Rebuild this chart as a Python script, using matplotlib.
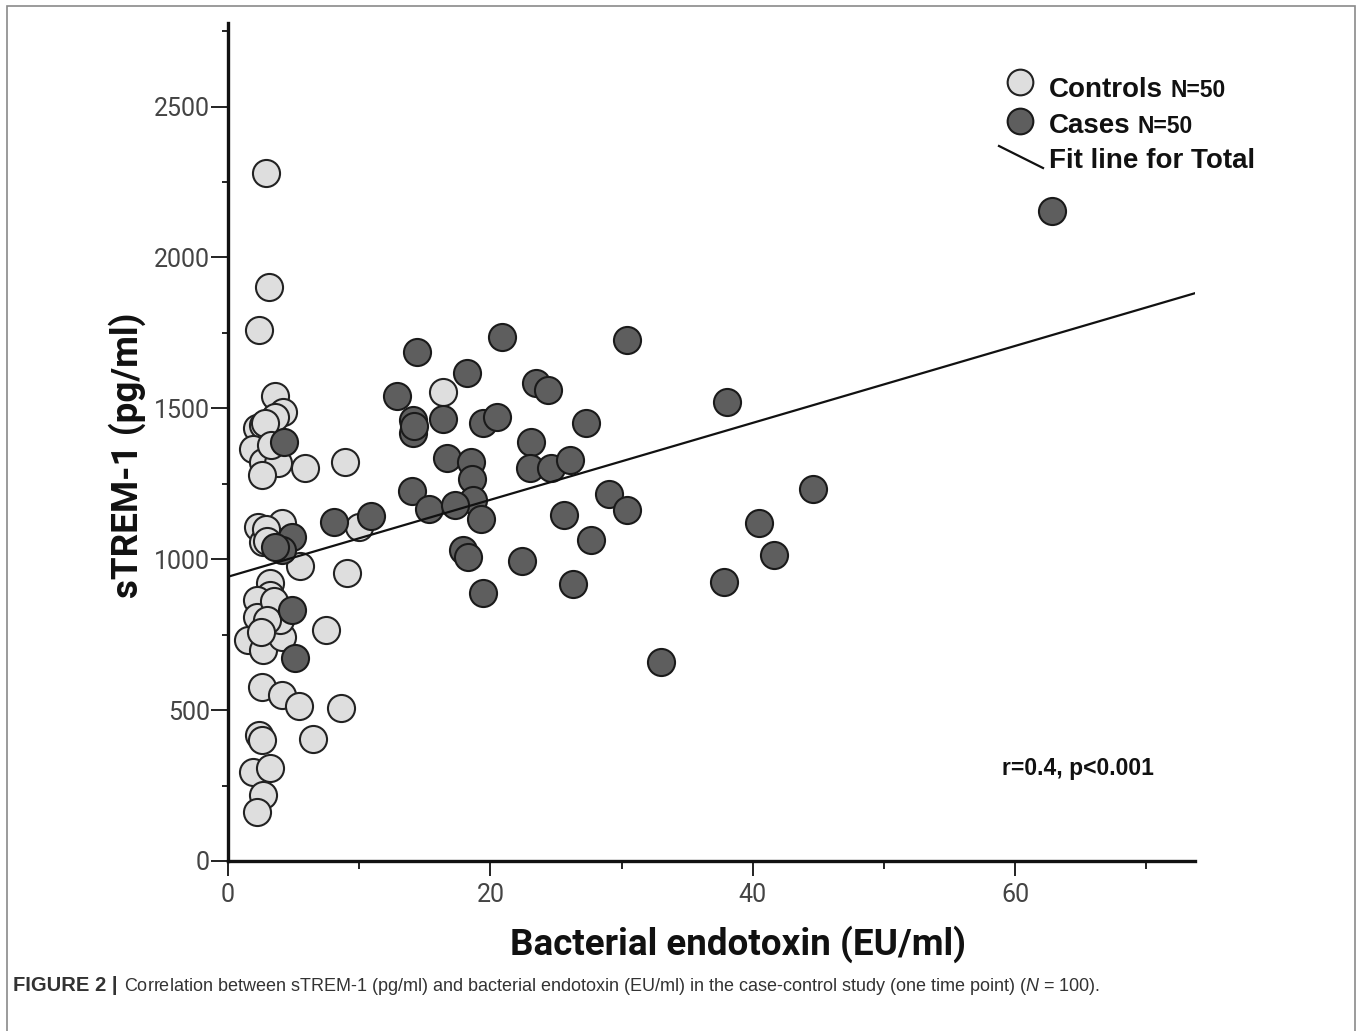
import matplotlib
matplotlib.use("Agg")
import matplotlib.pyplot as plt
from matplotlib.lines import Line2D
from matplotlib.patches import Rectangle
from matplotlib.ticker import MultipleLocator

plt.rcParams["mathtext.fontset"] = "custom"
plt.rcParams["mathtext.it"] = "Liberation Sans:italic"
plt.rcParams["mathtext.rm"] = "Liberation Sans"

# sTREM-1 vs endotoxin
controls_x = [2.9, 3.1, 2.4, 3.6, 4.2, 2.2, 2.7, 3.6, 1.9, 2.7, 3.8, 2.6, 5.9, 8.9,
              2.3, 4.1, 2.7, 3.4, 5.5, 9.1, 10.0, 3.2, 3.2, 2.2, 2.2, 2.7, 1.5, 2.7,
              4.1, 4.0, 7.5, 2.6, 4.1, 5.4, 8.6, 2.4, 2.6, 6.5, 1.9, 3.2, 2.7, 2.2,
              16.4, 2.8, 3.3, 2.9, 3.0, 3.5, 3.0, 2.5]
controls_y = [2280, 1903, 1760, 1541, 1488, 1435, 1445, 1472, 1366, 1323, 1319, 1279, 1303, 1323,
              1107, 1120, 1057, 1064, 978, 955, 1107, 921, 882, 865, 809, 766, 733, 699,
              742, 799, 766, 577, 550, 514, 507, 418, 401, 404, 295, 308, 219, 162,
              1555, 1450, 1380, 1100, 1060, 860, 800, 760]

cases_x = [62.8, 30.4, 20.9, 14.4, 18.2, 23.5, 24.4, 12.9, 38.0, 14.1, 14.1, 16.4, 19.4,
           20.5, 27.3, 23.1, 16.7, 18.5, 23.0, 24.6, 26.1, 18.6, 14.0, 18.7, 15.3, 17.3,
           19.3, 29.0, 30.4, 25.6, 10.9, 8.1, 17.9, 18.3, 22.4, 27.7, 19.4, 26.3, 44.6,
           40.5, 41.6, 37.8, 33.0, 4.3, 4.9, 4.1, 3.6, 4.9, 5.1, 14.2]
cases_y = [2154, 1727, 1737, 1687, 1617, 1584, 1561, 1541, 1521, 1462, 1419, 1465, 1452,
           1472, 1452, 1389, 1336, 1323, 1303, 1303, 1329, 1266, 1226, 1197, 1167, 1180,
           1134, 1216, 1163, 1147, 1144, 1124, 1031, 1008, 994, 1064, 888, 918, 1233,
           1120, 1014, 925, 660, 1389, 1074, 1031, 1041, 832, 673, 1440]

# linear fit for the total sample
fit_intercept = 942
fit_slope = 12.75

x_max = 73.7
y_max = 2777

W, H = 1360, 1031
def fx(px):
    return px / W
def fy(py):
    return 1 - py / H

narrow = ["Roboto", "DejaVu Sans"]
bold_sans = ["Liberation Sans", "DejaVu Sans"]

fig = plt.figure(figsize=(W / 100, H / 100), dpi=100)
ax = fig.add_axes([fx(228), fy(861), fx(1195) - fx(228), fy(23) - fy(861)])

ax.scatter(controls_x, controls_y, s=380, c="#dedede", edgecolors="#222222",
           linewidths=1.5, zorder=2, clip_on=False)
ax.scatter(cases_x, cases_y, s=380, c="#5e5e5e", edgecolors="#1a1a1a",
           linewidths=1.5, zorder=3, clip_on=False)

fit_x = [0, x_max]
fit_y = [fit_intercept + fit_slope * v for v in fit_x]
ax.plot(fit_x, fit_y, color="#111111", lw=1.6, zorder=4)

ax.set_xlim(0, x_max)
ax.set_ylim(0, y_max)
ax.xaxis.set_major_locator(MultipleLocator(20))
ax.xaxis.set_minor_locator(MultipleLocator(10))
ax.yaxis.set_major_locator(MultipleLocator(500))
ax.yaxis.set_minor_locator(MultipleLocator(250))

for side in ["top", "right"]:
    ax.spines[side].set_visible(False)
for side in ["left", "bottom"]:
    ax.spines[side].set_linewidth(2.4)
    ax.spines[side].set_color("#111111")

ax.tick_params(axis="y", which="major", length=12, width=1.4, pad=1,
               labelsize=18, labelcolor="#444444", color="#222222")
ax.tick_params(axis="y", which="minor", length=4.5, width=1.4, color="#222222")
ax.tick_params(axis="x", which="major", length=11, width=1.4, pad=5,
               labelsize=18, labelcolor="#444444", color="#222222")
ax.tick_params(axis="x", which="minor", length=6, width=1.4, color="#222222")
for lab in ax.get_xticklabels() + ax.get_yticklabels():
    lab.set_family(narrow)

fig.text(fx(738), fy(955), "Bacterial endotoxin (EU/ml)", ha="center", va="baseline",
         fontsize=26.5, fontweight="bold", family=narrow, color="#111111")
fig.text(fx(127), fy(455), "sTREM-1 (pg/ml)", ha="center", va="center", rotation=90,
         fontsize=26.5, fontweight="bold", family=narrow, color="#111111")

fig.text(fx(1002), fy(775), "r=0.4, p<0.001", ha="left", va="baseline",
         fontsize=16.5, fontweight="bold", family=bold_sans, color="#111111")

# legend drawn by hand (mixed font sizes on one row)
fig.add_artist(Line2D([fx(1020)], [fy(82)], marker="o", markersize=18.5,
                      markerfacecolor="#dedede", markeredgecolor="#222222",
                      markeredgewidth=1.5, transform=fig.transFigure))
fig.add_artist(Line2D([fx(1020)], [fy(121)], marker="o", markersize=18.5,
                      markerfacecolor="#5e5e5e", markeredgecolor="#1a1a1a",
                      markeredgewidth=1.5, transform=fig.transFigure))
fig.add_artist(Line2D([fx(999), fx(1043)], [fy(146), fy(168)], color="#111111",
                      lw=1.6, transform=fig.transFigure))

renderer = fig.canvas.get_renderer()
for label, base in [("Controls", 97), ("Cases", 133)]:
    t = fig.text(fx(1049), fy(base), label, ha="left", va="baseline", fontsize=20,
                 fontweight="bold", family=bold_sans, color="#111111")
    bb = t.get_window_extent(renderer)
    fig.text(bb.x1 / W + fx(7), fy(base), "N=50", ha="left", va="baseline",
             fontsize=16.5, fontweight="bold", family=bold_sans, color="#111111")
fig.text(fx(1049), fy(168), "Fit line for Total", ha="left", va="baseline", fontsize=20,
         fontweight="bold", family=bold_sans, color="#111111")

# caption
cap = fig.text(fx(13), fy(991), "FIGURE 2 |", ha="left", va="baseline", fontsize=14.5,
               fontweight="bold", family=bold_sans, color="#333333")
bb = cap.get_window_extent(renderer)
fig.text(bb.x1 / W + fx(7), fy(991),
         "Correlation between sTREM-1 (pg/ml) and bacterial endotoxin (EU/ml) in the "
         "case-control study (one time point) ($\\mathit{N}$ = 100).",
         ha="left", va="baseline", fontsize=13, family=bold_sans, color="#333333")

# outer frame of the figure panel
fig.add_artist(Rectangle((fx(7), -0.05), fx(1355) - fx(7), fy(6) + 0.05, fill=False,
                         edgecolor="#8a8a8a", lw=1.2, transform=fig.transFigure))

fig.savefig("out.png", dpi=100)
